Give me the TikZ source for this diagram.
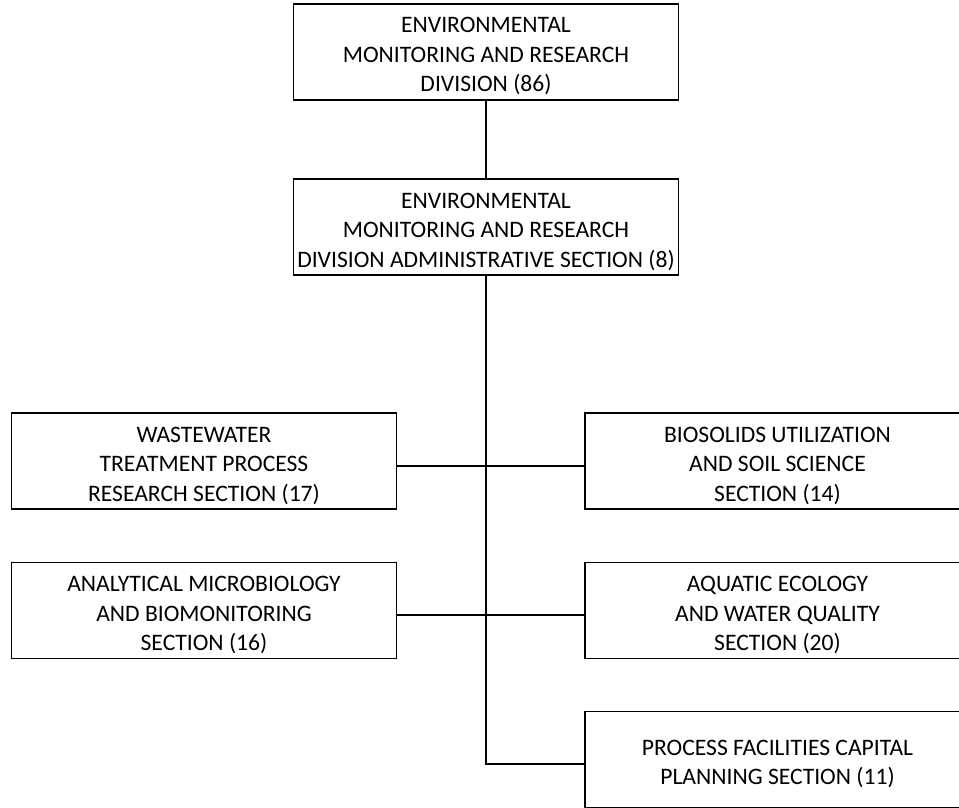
\documentclass[tikz,border=0pt]{standalone}
\usepackage{fontspec}
\setmainfont{Carlito}
\newcommand\boxtext[1]{\raisebox{-4.6pt}[\height][\depth]{\begin{tabular}{@{}c@{}}#1\end{tabular}}}
\begin{document}
\begin{tikzpicture}[x=1pt,y=-1pt,
  box/.style={draw=black,line width=1.9pt,rectangle,minimum width=385pt,minimum height=96pt,
    inner sep=0pt,font=\fontsize{23.6}{29.5}\selectfont},
  conn/.style={draw=black,line width=1.9pt}]
\useasboundingbox (0,0) rectangle (959,808);
\node[box] (top) at (486,52) {\boxtext{ENVIRONMENTAL\\MONITORING AND RESEARCH\\DIVISION (86)}};
\node[box] (admin) at (486,227) {\boxtext{ENVIRONMENTAL\\MONITORING AND RESEARCH\\DIVISION ADMINISTRATIVE SECTION (8)}};
\node[box] (ww) at (204,461) {\boxtext{WASTEWATER\\TREATMENT PROCESS\\RESEARCH SECTION (17)}};
\node[box] (mic) at (204,610.5) {\boxtext{ANALYTICAL MICROBIOLOGY\\AND BIOMONITORING\\SECTION (16)}};
\node[box] (bio) at (777.5,461) {\boxtext{BIOSOLIDS UTILIZATION\\AND SOIL SCIENCE\\SECTION (14)}};
\node[box] (aqu) at (777.5,610.5) {\boxtext{AQUATIC ECOLOGY\\AND WATER QUALITY\\SECTION (20)}};
\node[box] (pfc) at (777.5,759.5) {\boxtext{PROCESS FACILITIES CAPITAL\\PLANNING SECTION (11)}};
\draw[conn] (top.south) -- (admin.north);
\draw[conn] (admin.south) |- ([yshift=-4.5pt]pfc.west);
\draw[conn] ([yshift=-5pt]ww.east) -- ([yshift=-5pt]bio.west);
\draw[conn] ([yshift=-4.5pt]mic.east) -- ([yshift=-4.5pt]aqu.west);
\end{tikzpicture}
\end{document}
